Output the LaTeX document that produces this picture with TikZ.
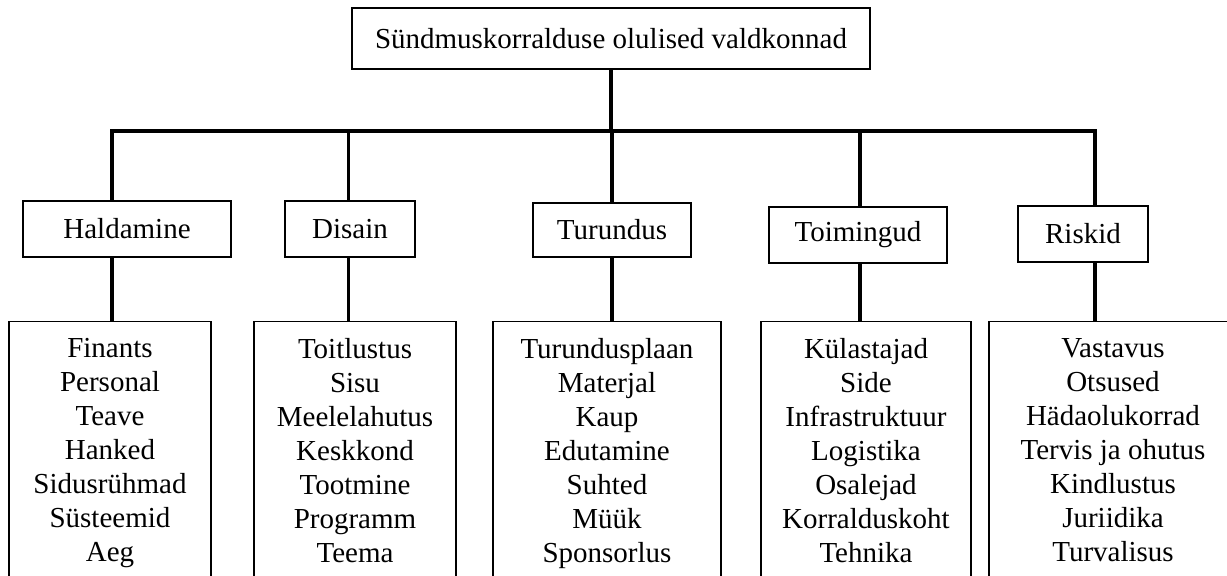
\documentclass[tikz,border=0pt]{standalone}
\usepackage{fontspec}
\setmainfont{Liberation Serif}
\usepackage{tikz}
\usetikzlibrary{positioning, calc}

\begin{document}
\begin{tikzpicture}[x=0.5pt, y=-0.5pt,
    box/.style={draw, line width=0.6pt, inner sep=0pt, font=\fontsize{14.5}{17}\selectfont},
    listbox/.style={draw, line width=0.6pt, anchor=north, align=center, inner xsep=0pt, inner ysep=8.5pt, font=\fontsize{14.5}{17}\selectfont},
    link/.style={black, line width=1.6pt}]
      \useasboundingbox (0, 0) rectangle (1227, 576);
      \clip (0, 0) rectangle (1227, 576);

      % TOP
      \node[box, minimum width=259pt, minimum height=30.5pt] (top) at (611, 38.5) {Sündmuskorralduse olulised valdkonnad};

      % BUS
      \coordinate (bus-hal) at (112, 131);
      \coordinate (bus-dis) at (348.8, 131);
      \coordinate (bus-tur) at (612, 131);
      \coordinate (bus-toi) at (860, 131);
      \coordinate (bus-ris) at (1095, 131);

      % Haldamine
      \node[box, minimum width=104pt, minimum height=28pt] (hal) at (127, 229) {Haldamine};
      \node[listbox, minimum width=101pt] (hal-list) at (110, 321) {Finants\\ Personal\\ Teave\\ Hanked\\ Sidusrühmad\\ Süsteemid\\ Aeg};

      % Disain
      \node[box, minimum width=65pt, minimum height=28pt] (dis) at (350, 229) {Disain};
      \node[listbox, minimum width=101pt] (dis-list) at (355, 321) {Toitlustus\\ Sisu\\ Meelelahutus\\ Keskkond\\ Tootmine\\ Programm\\ Teema};

      % Turundus
      \node[box, minimum width=79pt, minimum height=27pt] (tur) at (612, 230) {Turundus};
      \node[listbox, minimum width=114pt] (tur-list) at (607, 321) {Turundusplaan\\ Materjal\\ Kaup\\ Edutamine\\ Suhted\\ Müük\\ Sponsorlus};

      % Toimingud
      \node[box, minimum width=89pt, minimum height=28pt] (toi) at (858, 235) {Toimingud};
      \node[listbox, minimum width=105pt] (toi-list) at (866, 321) {Külastajad\\ Side\\ Infrastruktuur\\ Logistika\\ Osalejad\\ Korralduskoht\\ Tehnika};

      % Riskid
      \node[box, minimum width=65pt, minimum height=28pt] (ris) at (1083, 234) {Riskid};
      \node[listbox, minimum width=124pt] (ris-list) at (1113, 321) {Vastavus\\ Otsused\\ Hädaolukorrad\\ Tervis ja ohutus\\ Kindlustus\\ Juriidika\\ Turvalisus};

      % LINKS
      \draw[link] (top.south) -- (top.south |- bus-tur);
      \draw[link] (hal.north -| bus-hal) -- (bus-hal) -- (bus-ris) -- (ris.north -| bus-ris);
      \draw[link] (bus-dis) -- (dis.north -| bus-dis);
      \draw[link] (bus-tur) -- (tur.north -| bus-tur);
      \draw[link] (bus-toi) -- (toi.north -| bus-toi);

      \draw[link] (hal.south -| bus-hal) -- (hal-list.north -| bus-hal);
      \draw[link] (dis.south -| bus-dis) -- (dis-list.north -| bus-dis);
      \draw[link] (tur.south -| bus-tur) -- (tur-list.north -| bus-tur);
      \draw[link] (toi.south -| bus-toi) -- (toi-list.north -| bus-toi);
      \draw[link] (ris.south -| bus-ris) -- (ris-list.north -| bus-ris);
    \end{tikzpicture}
\end{document}
